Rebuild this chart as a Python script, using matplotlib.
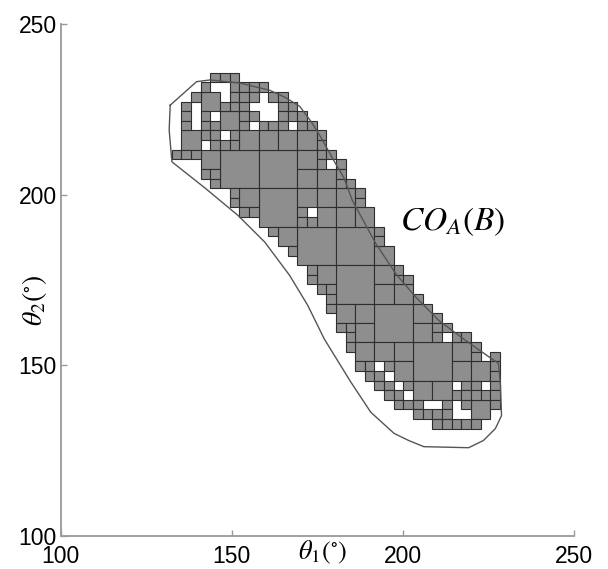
import numpy as np
import matplotlib
matplotlib.use("Agg")
import matplotlib.pyplot as plt
from matplotlib.patches import Rectangle

plt.rcParams["mathtext.fontset"] = "stix"
plt.rcParams["font.family"] = ["Liberation Sans", "DejaVu Sans"]

# grid of boxes, one entry per row from the top: first / last filled column
ROW_LEFT = [4, 3, 2, 1, 1, 1, 1, 1, 0, 3, 3, 4, 6, 6, 7, 9, 10, 11, 12, 13, 14,
            14, 15, 16, 16, 17, 17, 18, 18, 19, 19, 20, 21, 22, 23, 25, 27]
ROW_RIGHT = [6, 9, 11, 12, 13, 14, 15, 15, 16, 17, 17, 18, 19, 19, 20, 20, 21,
             21, 22, 22, 23, 24, 24, 25, 26, 27, 28, 30, 31, 33, 33, 33, 33, 33,
             33, 32, 31]
# empty cells inside the rows (row, col)
HOLES = [(1, 4), (1, 5), (2, 5), (2, 9), (3, 2), (3, 8), (3, 9), (3, 10),
         (4, 2), (4, 4), (4, 9), (4, 10), (5, 2), (5, 8), (5, 12), (6, 5),
         (7, 3), (9, 16), (14, 14), (27, 28), (29, 32), (30, 21), (31, 22),
         (32, 23), (32, 29), (32, 32), (33, 24), (34, 26), (34, 27), (34, 29),
         (35, 29), (35, 30)]

# CO_A(B) boundary, theta1 / theta2 in degrees
CURVE_T1 = [132.0, 139.7, 143.6, 152.3, 161.0, 165.4, 169.8, 173.3, 176.2,
            179.9, 182.8, 185.2, 192.1, 197.9, 203.7, 210.5, 218.2, 227.9,
            228.5, 228.8, 227.0, 223.5, 219.2, 206.1, 201.7, 197.4, 190.6,
            184.8, 177.0, 172.2, 166.9, 159.6, 151.8, 142.2, 132.5, 131.7,
            132.0]
CURVE_T2 = [226.2, 233.1, 233.6, 232.7, 230.6, 228.6, 225.9, 221.2, 216.5,
            209.8, 204.8, 198.3, 185.6, 176.8, 170.0, 163.1, 157.3, 150.5,
            144.0, 135.2, 131.4, 127.9, 125.8, 126.1, 127.9, 130.0, 136.2,
            145.0, 157.7, 167.5, 176.3, 186.1, 193.9, 201.9, 209.6, 218.9,
            226.2]

TICKS = [100, 150, 200, 250]

# grid placement in data units
X0 = 132.46
Y_TOP = 235.72
CELL = 2.82

nrows = len(ROW_LEFT)
ncols = max(ROW_RIGHT) + 1
filled = np.zeros((nrows, ncols), dtype=bool)
for r, (a, b) in enumerate(zip(ROW_LEFT, ROW_RIGHT)):
    filled[r, a:b + 1] = True
for r, c in HOLES:
    filled[r, c] = False

# merge full aligned blocks like a quadtree (4x4, then 2x2, then single)
used = np.zeros_like(filled)
squares = []
for size in (4, 2, 1):
    start = (1 % size) - size if size > 1 else 0
    for r in range(0, nrows, size):
        for c in range(start, ncols, size):
            if c < 0 or r + size > nrows or c + size > ncols:
                continue
            blk = filled[r:r + size, c:c + size]
            if blk.all() and not used[r:r + size, c:c + size].any():
                used[r:r + size, c:c + size] = True
                squares.append((r, c, size))

fig = plt.figure(figsize=(6.08, 5.69), dpi=100)
ax = fig.add_axes([0.0998, 0.0585, 0.8444, 0.8993])

for r, c, size in squares:
    ax.add_patch(Rectangle((X0 + c * CELL, Y_TOP - (r + size) * CELL),
                           size * CELL, size * CELL, facecolor="#8e8e8e",
                           edgecolor="#2e2e2e", linewidth=0.8, zorder=2))

ax.plot(CURVE_T1, CURVE_T2, color="#555555", linewidth=1.0, zorder=3)

ax.text(199.2, 192.0, r"$CO_A(B)$", fontsize=24, ha="left", va="center")

ax.set_xlim(100, 250)
ax.set_ylim(100, 250)
ax.set_xticks(TICKS)
ax.set_yticks(TICKS)
for side in ("top", "right"):
    ax.spines[side].set_visible(False)
for side in ("left", "bottom"):
    ax.spines[side].set_color("#999999")
    ax.spines[side].set_linewidth(1.3)
ax.tick_params(direction="in", length=4, width=1, color="#999999",
               labelsize=16.5)
ax.tick_params(axis="x", pad=7)
ax.tick_params(axis="y", pad=3)

ax.set_xlabel(r"$\theta_1(^{\circ})$", fontsize=19)
ax.xaxis.set_label_coords(0.51, -0.006)
ax.set_ylabel(r"$\theta_2(^{\circ})$", fontsize=20)
ax.yaxis.set_label_coords(-0.022, 0.46)

fig.savefig("out.png", dpi=100)
